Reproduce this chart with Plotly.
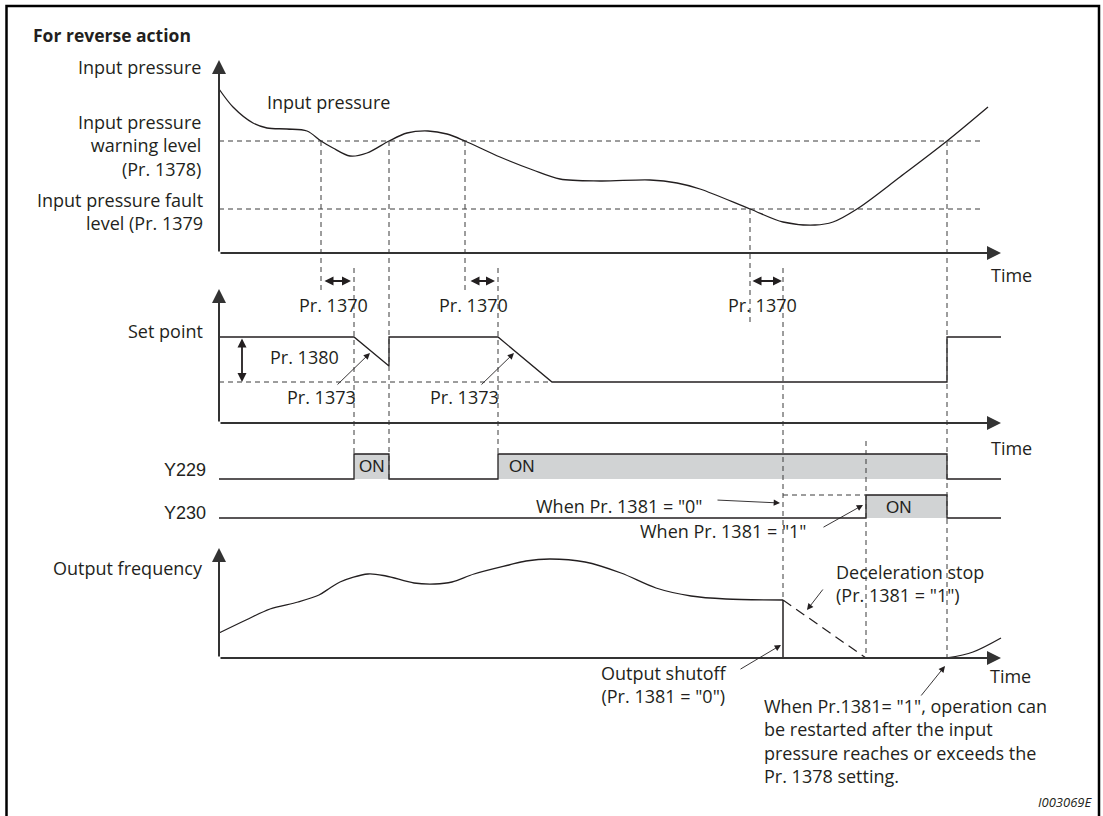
import plotly.graph_objects as go

W, H = 1103, 816
T0 = 219  # pixel column of the vertical axes (t = 0)

# ---------------- data (time in diagram units, t = 0 at the vertical axes) ----------------
t_end = 782

# input pressure curve
pressure_t = [0, 14, 34, 48, 68, 88, 102, 114, 131, 148, 170, 188, 209, 228, 246,
              281, 314, 341, 381, 431, 458, 481, 531, 564, 596, 614, 638, 681, 728, 769]
pressure_v = [164, 146, 130, 125, 124, 122, 112, 105, 97, 100, 112, 120, 122, 119, 112,
              96, 83, 74, 72, 73, 70, 64, 44, 31, 28, 31, 44, 76, 112, 146]
warning_level = 112   # Pr. 1378
fault_level = 44      # Pr. 1379

# set point
setpoint_t = [0, 135, 170, 170, 279, 333, 728, 728, 782]
setpoint_v = [86, 86, 57, 86, 86, 41, 41, 86, 86]
setpoint_reduced = 41   # set point - Pr. 1380
reduced_until = 333

# output signals (ON intervals)
y229_on = [(135, 170), (279, 728)]
y230_on = [(647, 728)]
y230_on_alt = 564       # when Pr. 1381 = "0"

# output frequency
freq_t = [0, 27, 51, 79, 100, 111, 121, 149, 167, 195, 216, 233, 255, 290, 307, 331,
          366, 402, 437, 472, 507, 564]
freq_v = [25, 38, 49, 56, 63, 70, 76, 84, 82, 75, 74, 76, 84, 93, 97, 99,
          96, 85, 70, 62, 59, 58]
shutoff_t = 564
decel_end_t = 647
restart_t = [728, 754, 782]
restart_v = [0, 6, 20]

# Pr. 1370 delay windows
delay_windows = [(103, 133), (249, 277), (531, 564)]

# ---------------- layout constants (pixel rows of each panel baseline) ----------------
base = {"y": 253, "y2": 423, "y3": 479, "y4": 518, "y5": 658}
axis_tip = {"y": 60, "y2": 289, "y5": 548}
pulse_h = {"y3": 25, "y4": 23}
INK = "#231f20"
AXC = "#333333"
GREY = "#d1d3d4"
FONT = "Open Sans"
ARIAL = "Liberation Sans"
DASH = "5px,4px"

# dashed timing guides: (t, top pixel, bottom pixel)
guides = [(102, 141, 290), (135, 268, 454), (170, 141, 479), (246, 141, 290),
          (279, 268, 454), (531, 209, 324), (564, 268, 600), (647, 441, 658),
          (728, 141, 658)]

fig = go.Figure()


def line(x, y, yaxis, width=1.3, dash=None, color=INK, shape="linear"):
    fig.add_trace(go.Scatter(x=x, y=y, yaxis=yaxis, mode="lines", hoverinfo="skip",
                             line=dict(color=color, width=width, dash=dash, shape=shape,
                                       smoothing=0.9 if shape == "spline" else None),
                             showlegend=False))


# guides
for t, top, bot in guides:
    line([t, t], [top, bot], "y6", width=1, dash=DASH, color="#3a3a3a")

# panel 1 : input pressure
line([0, 764], [warning_level] * 2, "y", width=1, dash=DASH, color="#3a3a3a")
line([0, 764], [fault_level] * 2, "y", width=1, dash=DASH, color="#3a3a3a")
line(pressure_t, pressure_v, "y", shape="spline")

# panel 2 : set point
line([0, reduced_until], [setpoint_reduced] * 2, "y2", width=1, dash=DASH, color="#3a3a3a")
line(setpoint_t, setpoint_v, "y2")

# panel 3 : Y229 / Y230
for ax, on in (("y3", y229_on), ("y4", y230_on)):
    h = pulse_h[ax]
    xs, ys = [0], [0]
    for a, b in on:
        fig.add_trace(go.Scatter(x=[a, b, b, a, a], y=[0, 0, h, h, 0], yaxis=ax,
                                 mode="none", fill="toself", fillcolor=GREY,
                                 hoverinfo="skip", showlegend=False))
        xs += [a, a, b, b]
        ys += [0, h, h, 0]
    xs.append(t_end)
    ys.append(0)
    line(xs, ys, ax)
line([y230_on_alt, y230_on[0][0]], [pulse_h["y4"]] * 2, "y4", width=1, dash=DASH, color="#3a3a3a")

# panel 4 : output frequency
line(freq_t, freq_v, "y5", shape="spline")
line([shutoff_t, shutoff_t], [freq_v[-1], 0], "y5", width=1.5)
line([shutoff_t, decel_end_t], [freq_v[-1], 0], "y5", width=1.2, dash="10px,6px")
line(restart_t, restart_v, "y5", shape="spline")

ann = []


def text(s, x, y, xanchor="center", size=18, family=FONT):
    ann.append(dict(text=s, x=x - T0, y=y, xref="x", yref="y6", showarrow=False,
                    xanchor=xanchor, yanchor="middle",
                    align=xanchor if xanchor != "center" else "center",
                    font=dict(family=family, size=size, color=INK)))


def arrow(x0, y0, x1, y1, yref="y6", width=0.9, size=1.4, head=2, both=False, color=INK):
    # x in pixels, y in units of yref
    ann.append(dict(text="", x=x1 - T0, y=y1, ax=x0 - T0, ay=y0, xref="x", yref=yref,
                    axref="x", ayref=yref, showarrow=True, arrowhead=head, startarrowhead=head,
                    arrowsize=size, startarrowsize=size, arrowwidth=width, arrowcolor=color,
                    arrowside="end+start" if both else "end", standoff=0, startstandoff=0))


# axes with arrow tips
for ax, tip in axis_tip.items():
    arrow(T0, 0, T0, base[ax] - tip, yref=ax, width=2, size=1.4, color=AXC)
    arrow(T0, 0, T0 + t_end, 0, yref=ax, width=2, size=1.4, color=AXC)

# Pr. 1370 double arrows
for a, b in delay_windows:
    arrow(T0 + a + 1, 281, T0 + b - 1, 281, width=1.8, size=1.0, both=True)

# Pr. 1380 double arrow
arrow(242, setpoint_v[0], 242, setpoint_reduced, yref="y2", width=1.8, size=1.0, both=True)

# pointer arrows
arrow(336, 386, 370, 353)
arrow(480, 386, 514, 353)
arrow(716, 500, 780, 503)
arrow(822, 528, 863, 505)
arrow(824, 588, 807, 610)
arrow(739, 670, 781, 645)
arrow(920, 697, 945, 666)

# texts
text("<b>For reverse action</b>", 31, 35, xanchor="left", size=17.5)
text("Input pressure", 203, 67, xanchor="right")
text("Input pressure<br>warning level<br>(Pr. 1378)", 203, 145, xanchor="right")
text("Input pressure fault<br>level (Pr. 1379", 205, 211, xanchor="right")
text("Input pressure", 265, 102, xanchor="left")
text("Time", 989, 275, xanchor="left")
for cx in (333, 473, 762):
    text("Pr. 1370", cx, 305)
text("Set point", 205, 331, xanchor="right")
text("Pr. 1380", 268, 357, xanchor="left")
text("Pr. 1373", 321, 397)
text("Pr. 1373", 464, 397)
text("Time", 989, 448, xanchor="left")
text("Y229", 208, 470, xanchor="right", family=ARIAL)
text("Y230", 208, 513, xanchor="right", family=ARIAL)
text("ON", 372, 466, family=ARIAL, size=17)
text("ON", 507, 466, xanchor="left", family=ARIAL, size=17)
text("ON", 899, 507, family=ARIAL, size=17)
text('When Pr. 1381 = "0"', 705, 506, xanchor="right")
text('When Pr. 1381 = "1"', 638, 531, xanchor="left")
text("Output frequency", 205, 568, xanchor="right")
text('Deceleration stop<br>(Pr. 1381 = "1")', 834, 583, xanchor="left")
text('Output shutoff<br>(Pr. 1381 = "0")', 664, 684)
text("Time", 988, 676, xanchor="left")
text('When Pr.1381= "1", operation can<br>be restarted after the input<br>'
     'pressure reaches or exceeds the<br>Pr. 1378 setting.', 762, 741, xanchor="left")
text("<i>I003069E</i>", 1094, 802, xanchor="right", size=13)

layout = dict(
    width=W, height=H, margin=dict(l=0, r=0, t=0, b=0),
    paper_bgcolor="white", plot_bgcolor="white", showlegend=False,
    xaxis=dict(range=[-T0, W - T0], visible=False, fixedrange=True),
    annotations=ann,
    shapes=[dict(type="rect", xref="paper", yref="paper", x0=6.5 / W, x1=1099 / W,
                 y0=-0.05, y1=1 - 6 / H, line=dict(color="black", width=2.5))],
)
for ax, b in base.items():
    key = "yaxis" if ax == "y" else "yaxis" + ax[1:]
    layout[key] = dict(range=[b - H, b], visible=False, fixedrange=True)
    if ax != "y":
        layout[key]["overlaying"] = "y"
layout["yaxis6"] = dict(range=[H, 0], visible=False, fixedrange=True, overlaying="y")
fig.update_layout(**layout)

fig.write_html("out.html", config={"displayModeBar": False},
               post_script="document.body.style.margin='0';")
